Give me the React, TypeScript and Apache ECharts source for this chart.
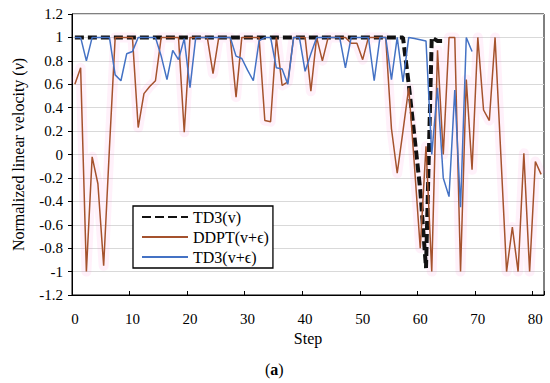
import React, { useEffect, useRef } from "react";
import * as echarts from "echarts";

const FONT = "Liberation Serif";

// Step categories 0..81
const steps = [
  "0", "1", "2", "3", "4", "5", "6", "7", "8", "9",
  "10", "11", "12", "13", "14", "15", "16", "17", "18", "19",
  "20", "21", "22", "23", "24", "25", "26", "27", "28", "29",
  "30", "31", "32", "33", "34", "35", "36", "37", "38", "39",
  "40", "41", "42", "43", "44", "45", "46", "47", "48", "49",
  "50", "51", "52", "53", "54", "55", "56", "57", "58", "59",
  "60", "61", "62", "63", "64", "65", "66", "67", "68", "69",
  "70", "71", "72", "73", "74", "75", "76", "77", "78", "79",
  "80", "81",
];

// TD3(v) – steps 0..64
const td3 = [
  1, 1, 1, 1, 1, 1, 1, 1, 1, 1,
  1, 1, 1, 1, 1, 1, 1, 1, 1, 1,
  1, 1, 1, 1, 1, 1, 1, 1, 1, 1,
  1, 1, 1, 1, 1, 1, 1, 1, 1, 1,
  1, 1, 1, 1, 1, 1, 1, 1, 1, 1,
  1, 1, 1, 1, 1, 1, 1, 1, 0.6, 0.15,
  -0.3, -0.97, 1, 0.97, 0.97,
];

// DDPT(v+ϵ) – steps 0..81
const ddpt = [
  0.6, 0.74, -1.0, -0.02, -0.25, -0.95, 0.05, 1, 1, 1,
  1, 0.23, 0.52, 0.58, 0.63, 1, 1, 1, 1, 0.19,
  1, 1, 1, 1, 0.69, 1, 1, 1, 0.49, 1,
  1, 1, 1, 0.29, 0.28, 1, 0.59, 0.62, 1, 1,
  1, 0.54, 1, 0.8, 1, 1, 1, 1, 0.95, 0.95,
  0.81, 1, 1, 1, 1, 0.22, -0.16, 0.2, 0.57, -0.1,
  -0.8, 0.07, -1.0, 0.89, 0.0, 1, 1, -1.0, 0.64, -0.13,
  1, 0.38, 0.29, 1, 0.0, -1.0, -0.62, -1.0, 0.01, -1.0,
  -0.06, -0.17,
];

// TD3(v+ϵ) – steps 0..69
const td3Noise = [
  1, 1, 0.8, 1, 1, 1, 1, 0.68, 0.63, 0.86,
  0.88, 1, 1, 1, 1, 0.84, 0.64, 0.89, 0.81, 0.99,
  0.57, 1, 1, 1, 1, 1, 1, 1, 0.84, 0.82,
  0.72, 0.63, 0.97, 1, 1, 0.74, 0.73, 0.6, 1, 1,
  0.71, 0.86, 1, 1, 1, 1, 1, 0.74, 1, 1,
  1, 1, 0.63, 1, 1, 0.64, 1, 0.62, 1, 0.99,
  0.98, 0.97, 0.0, 0.57, -0.2, -0.36, 0.55, -0.45, 1, 0.88,
];

const seriesNames = ["TD3(v)", "DDPT(v+ϵ)", "TD3(v+ϵ)"];

export default function App() {
  const ref = useRef<HTMLDivElement>(null);
  useEffect(() => {
    const chart = echarts.init(ref.current!, null, { renderer: "svg" });
    chart.setOption({
      animation: false,
      backgroundColor: "#fff",
      textStyle: { fontFamily: FONT },
      grid: {
        left: 72,
        right: 6,
        top: 14,
        bottom: 88,
        show: true,
        borderColor: "#000",
        borderWidth: 1,
        backgroundColor: "transparent",
      },
      legend: {
        left: 133,
        top: 206,
        orient: "vertical",
        backgroundColor: "#fff",
        borderColor: "#000",
        borderWidth: 1.3,
        borderRadius: 0,
        padding: [2, 4, 2, 8],
        itemGap: 2,
        itemWidth: 46,
        itemHeight: 14,
        itemStyle: { opacity: 0 },
        textStyle: { fontFamily: FONT, fontSize: 16, lineHeight: 18, color: "#000" },
        data: seriesNames,
      },
      xAxis: {
        type: "category",
        data: steps,
        boundaryGap: true,
        axisLine: { show: true, onZero: false, lineStyle: { color: "#000", width: 1 } },
        axisTick: {
          show: true,
          inside: true,
          length: 4,
          interval: 9,
          lineStyle: { color: "#000" },
        },
        axisLabel: {
          interval: 9,
          fontSize: 15,
          color: "#000",
          margin: 16,
          fontFamily: FONT,
        },
        splitLine: { show: false },
        name: "Step",
        nameLocation: "middle",
        nameGap: 31,
        nameTextStyle: { fontSize: 16, color: "#000", fontFamily: FONT },
      },
      yAxis: {
        type: "value",
        min: -1.2,
        max: 1.2,
        interval: 0.2,
        axisLine: { show: true, onZero: false, lineStyle: { color: "#000", width: 1 } },
        axisTick: { show: true, inside: false, length: 4, lineStyle: { color: "#000" } },
        axisLabel: { fontSize: 15, color: "#000", margin: 9, fontFamily: FONT },
        splitLine: { show: true, lineStyle: { color: "#d9d9d9", width: 1 } },
        name: "{n|Normalized linear velocity (}{i|v}{n|)}",
        nameLocation: "middle",
        nameGap: 46,
        nameRotate: 90,
        nameTextStyle: {
          color: "#000",
          fontFamily: FONT,
          rich: {
            n: { fontSize: 16, fontFamily: FONT, color: "#000" },
            i: { fontSize: 16, fontFamily: FONT, fontStyle: "italic", color: "#000" },
          },
        },
      },
      series: [
        {
          type: "line",
          data: ddpt,
          symbol: "none",
          silent: true,
          lineStyle: { color: "rgba(255,120,210,0.1)", width: 10, join: "round" },
          z: 1,
        },
        {
          name: seriesNames[0],
          type: "line",
          data: td3,
          symbol: "none",
          itemStyle: { color: "#111" },
          lineStyle: { color: "#111", width: 4, type: [9, 4] },
          z: 3,
        },
        {
          name: seriesNames[1],
          type: "line",
          data: ddpt,
          symbol: "none",
          itemStyle: { color: "#a5522d" },
          lineStyle: { color: "#a5522d", width: 1.5 },
          z: 4,
        },
        {
          name: seriesNames[2],
          type: "line",
          data: td3Noise,
          symbol: "none",
          itemStyle: { color: "#4472c4" },
          lineStyle: { color: "#4472c4", width: 1.5 },
          z: 5,
        },
      ],
      graphic: [
        {
          type: "text",
          left: 265,
          top: 361,
          style: {
            text: "{p|(}{b|a}{p|)}",
            rich: {
              p: { fontSize: 16, fontFamily: FONT, fill: "#000" },
              b: { fontSize: 16, fontFamily: FONT, fontWeight: "bold", fill: "#000" },
            },
          },
        },
      ],
    });
    return () => chart.dispose();
  }, []);
  return (
    <div
      ref={ref}
      style={{ position: "absolute", left: 0, top: 0, width: 550, height: 383 }}
    />
  );
}
